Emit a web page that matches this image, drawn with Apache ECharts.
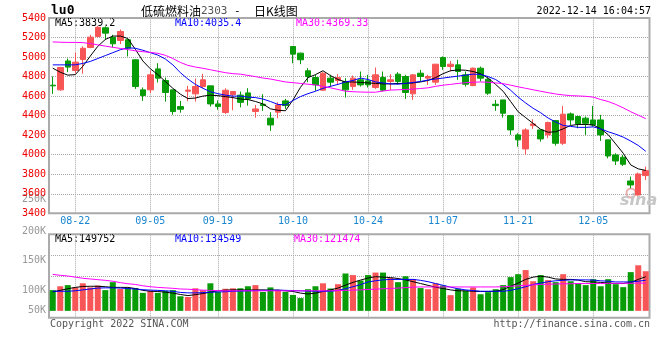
<!DOCTYPE html>
<html><head><meta charset="utf-8">
<script src="https://cdn.jsdelivr.net/npm/echarts@6/dist/echarts.min.js"></script>
<style>html,body{margin:0;padding:0;background:#fff}#c{width:660px;height:360px}</style>
</head><body><div id="c"></div><script>
// ---------- data ----------
const dates = ['08-17','08-18','08-19','08-22','08-23','08-24','08-25','08-26','08-29','08-30',
 '08-31','09-01','09-02','09-05','09-06','09-07','09-08','09-09','09-13','09-14',
 '09-15','09-16','09-19','09-20','09-21','09-22','09-23','09-26','09-27','09-28',
 '09-29','09-30','10-10','10-11','10-12','10-13','10-14','10-17','10-18','10-19',
 '10-20','10-21','10-24','10-25','10-26','10-27','10-28','10-31','11-01','11-02',
 '11-03','11-04','11-07','11-08','11-09','11-10','11-11','11-14','11-15','11-16',
 '11-17','11-18','11-21','11-22','11-23','11-24','11-25','11-28','11-29','11-30',
 '12-01','12-02','12-05','12-06','12-07','12-08','12-09','12-12','12-13','12-14'];
const labelDates = ['08-22','09-05','09-19','10-10','10-24','11-07','11-21','12-05'];
const openP = [4712,4664,4960,4862,4975,5098,5211,5300,5200,5170,
 5177,4972,4664,4664,4879,4760,4664,4493,4650,4623,
 4698,4705,4520,4432,4615,4610,4633,4442,4517,4374,
 4435,4551,5108,5040,4859,4791,4661,4784,4760,4750,
 4698,4767,4756,4688,4791,4750,4825,4801,4623,4835,
 4784,4743,4995,4903,4920,4818,4708,4886,4773,4517,
 4561,4401,4203,4059,4298,4254,4203,4350,4117,4418,
 4391,4374,4356,4356,4152,3998,3974,3731,3588,3786];
const closeP = [4705,4893,4897,4948,5090,5204,5305,5245,5136,5262,
 5091,4698,4606,4818,4784,4637,4442,4466,4662,4698,
 4767,4520,4493,4660,4647,4536,4570,4469,4503,4305,
 4510,4503,5030,4972,4801,4715,4835,4743,4790,4664,
 4784,4715,4715,4818,4661,4767,4750,4637,4818,4801,
 4801,4927,4903,4927,4852,4722,4886,4784,4630,4503,
 4425,4254,4152,4254,4315,4162,4329,4117,4415,4356,
 4315,4322,4305,4203,3987,3936,3902,3690,3803,3837];
const lowP = [4623,4655,4845,4835,4830,5091,5200,5180,5098,5132,
 5006,4674,4551,4630,4740,4544,4410,4430,4548,4544,
 4681,4493,4460,4418,4455,4485,4503,4380,4449,4244,
 4374,4469,4937,4927,4743,4654,4654,4698,4715,4585,
 4664,4698,4688,4674,4647,4664,4722,4572,4561,4750,
 4715,4715,4869,4852,4767,4698,4702,4750,4613,4449,
 4380,4203,4083,3998,4264,4134,4169,4093,4100,4305,
 4271,4203,4288,4141,3963,3895,3885,3656,3581,3741];
const highP = [4801,4900,4985,5045,5110,5228,5320,5315,5228,5283,
 5187,4978,4688,4860,4937,4790,4664,4551,4705,4780,
 4828,4705,4556,4680,4650,4647,4681,4510,4620,4435,
 4537,4572,5110,5045,4886,4818,4845,4818,4825,4784,
 4811,4852,4818,4893,4852,4825,4845,4818,4825,4869,
 4818,4930,5006,4961,4972,4852,4893,4903,4784,4561,
 4561,4408,4220,4271,4363,4254,4339,4356,4500,4432,
 4401,4391,4500,4408,4152,4015,3998,3776,3817,3878];
const ma5 = [4886,4845,4815,4820,4905,5010,5110,5180,5215,5215,
 5190,5080,4960,4880,4820,4750,4680,4620,4575,4580,
 4600,4610,4605,4595,4585,4570,4565,4545,4520,4470,
 4455,4450,4560,4690,4790,4820,4860,4810,4770,4745,
 4745,4740,4735,4730,4725,4725,4730,4730,4735,4745,
 4760,4790,4830,4860,4868,4865,4852,4830,4785,4720,
 4650,4545,4440,4380,4320,4260,4230,4235,4265,4300,
 4310,4310,4305,4265,4205,4110,4015,3895,3855,3839.2];
const ma10 = [4920,4920,4920,4920,4935,4955,4985,5015,5045,5075,
 5095,5090,5070,5045,5020,4980,4920,4840,4775,4720,
 4680,4645,4625,4610,4600,4600,4590,4585,4570,4545,
 4515,4510,4555,4595,4625,4650,4680,4700,4720,4745,
 4760,4785,4770,4745,4735,4725,4722,4730,4740,4750,
 4765,4775,4785,4795,4805,4815,4825,4822,4800,4770,
 4720,4660,4590,4530,4475,4430,4375,4335,4300,4290,
 4280,4280,4285,4265,4235,4210,4180,4140,4095,4035.4];
const ma30 = [5155,5152,5150,5150,5148,5138,5125,5112,5100,5088,
 5077,5064,5055,5048,5038,5018,4985,4945,4915,4898,
 4885,4870,4855,4840,4830,4825,4812,4800,4785,4775,
 4760,4745,4738,4730,4722,4715,4700,4685,4668,4650,
 4645,4642,4640,4640,4652,4662,4665,4668,4672,4678,
 4685,4700,4712,4720,4730,4738,4742,4745,4742,4735,
 4728,4712,4695,4680,4665,4650,4635,4622,4612,4605,
 4602,4598,4590,4565,4545,4515,4480,4440,4405,4369.33];
// volume in thousands of lots
const volume = [91,108,113,103,121,103,111,91,126,96,
 101,100,79,88,79,88,91,64,61,99,
 91,121,83,97,99,99,108,113,83,103,
 91,83,70,56,95,108,121,98,117,164,
 157,133,157,168,168,145,126,152,140,100,
 95,121,111,69,97,88,103,73,82,95,
 113,148,161,179,130,157,135,126,161,130,
 121,113,139,108,139,117,104,170,200,174];
const volMa5 = [83,90,97,103,107,108,108,106,103,103,
 103,98,90,86,85,82,78,72,67,71,
 76,82,88,91,92,92,91,92,92,91,
 91,88,85,78,74,78,85,92,100,113,
 125,135,144,150,148,146,142,136,128,120,
 112,104,98,92,88,88,86,85,85,86,
 93,108,122,138,148,152,148,140,138,138,
 135,128,127,125,122,120,120,125,138,149.752];
const volMa10 = [86,86,86,88,92,96,100,101,101,100,
 98,96,93,91,90,88,86,81,79,79,
 80,82,83,84,86,87,88,89,90,90,
 91,90,89,88,87,86,86,86,90,97,
 106,115,127,132,136,138,138,138,138,134,
 128,120,112,104,97,92,89,86,86,86,
 86,90,97,106,116,122,128,132,134,136,
 136,136,135,132,130,127,127,127,130,134.549];
const volMa30 = [160,156,153,148,143,140,137,134,130,124,
 119,116,110,106,103,101,99,96,95,93,
 91,90,89,88,88,88,88,88,88,88,
 88,88,88,88,88,88,88,88,89,90,
 91,92,94,95,97,98,100,102,104,105,
 105,105,105,105,105,105,105,105,105,105,
 106,108,110,112,114,116,117,118,119,119,
 120,120,120,120,121,121,121,121,122,121.474];
const volTickLabels = ['250K','200K','150K','100K','50K'];
const maTexts = ['MA5:3839.2','MA10:4035.4','MA30:4369.33'];
const volMaTexts = ['MA5:149752','MA10:134549','MA30:121474'];

// ---------- layout / style ----------
const MONO = '"DejaVu Sans Mono", monospace';
const CJK = '"Noto Sans CJK SC", sans-serif';
const RED = '#f85656', GREEN = '#089c08';
const MA_COLORS = ['#000000', '#0000ff', '#ff00ff'];
const GRID_LEFT = 49, GRID_W = 600.5;
const volLabelY = [199.5, 231, 260, 290.5, 310.5];
const gridLine = {type: 'dotted', color: '#a8a8a8', width: 1};

const candleData = dates.map((d, i) => [openP[i], closeP[i], lowP[i], highP[i]]);
const volData = volume.map((v, i) => ({value: v, itemStyle: {color: closeP[i] >= openP[i] ? RED : GREEN}}));
const vLines = {
  z: 1, silent: true, symbol: ['none', 'none'], label: {show: false},
  lineStyle: gridLine, emphasis: {disabled: true},
  data: labelDates.map(d => ({xAxis: d}))
};
function line(data, color, xi, yi) {
  return {type: 'line', data, xAxisIndex: xi, yAxisIndex: yi, symbol: 'none', smooth: false,
    lineStyle: {color, width: 1}, itemStyle: {color}, z: 3, silent: true};
}
function txt(x, y, text, fill, align, font) {
  return {type: 'text', x, y, silent: true, style: {text, fill, align: align || 'left', verticalAlign: 'middle', font: font || ('10px ' + MONO)}};
}

const graphic = [
  txt(51, 11, 'lu0', '#000', 'left', 'bold 13px ' + MONO),
  {type: 'text', x: 141, y: 11, silent: true, style: {
    text: '{a|低硫燃料油}{b|2303}{c| -  }{a|日K线图}', verticalAlign: 'middle',
    rich: {a: {font: '12px ' + CJK, fill: '#000'}, b: {font: '11px ' + MONO, fill: '#555'}, c: {font: '11px ' + MONO, fill: '#000'}}
  }},
  txt(651, 11, '2022-12-14 16:04:57', '#000', 'right'),
  txt(55, 23.5, maTexts[0], MA_COLORS[0]),
  txt(175, 23.5, maTexts[1], MA_COLORS[1]),
  txt(296, 23.5, maTexts[2], MA_COLORS[2]),
  txt(55, 239, volMaTexts[0], MA_COLORS[0]),
  txt(175, 239, volMaTexts[1], MA_COLORS[1]),
  txt(294, 239, volMaTexts[2], MA_COLORS[2]),
  txt(50, 324, 'Copyright 2022 SINA.COM', '#555'),
  txt(650, 324, 'http://finance.sina.com.cn', '#555', 'right'),
  {type: 'circle', silent: true, shape: {cx: 631, cy: 193, r: 4.5}, style: {fill: 'none', stroke: '#eab0b0', lineWidth: 2}},
  txt(620, 201, 'sina', '#c6c6c6', 'left', 'italic bold 16px "DejaVu Sans", sans-serif')
].concat(volTickLabels.map((t, i) => txt(46, volLabelY[i], t, '#999', 'right')));

const option = {
  animation: false,
  backgroundColor: '#fff',
  graphic,
  grid: [
    {left: GRID_LEFT, top: 18, width: GRID_W, height: 195.3, show: true, borderColor: '#ababab', borderWidth: 2, backgroundColor: 'transparent'},
    {left: GRID_LEFT, top: 234.3, width: GRID_W, height: 83.4, show: true, borderColor: '#ababab', borderWidth: 2, backgroundColor: 'transparent'}
  ],
  xAxis: [
    {type: 'category', gridIndex: 0, data: dates, boundaryGap: true,
      axisLine: {show: false}, axisTick: {show: false}, splitLine: {show: false},
      axisLabel: {interval: (idx, val) => labelDates.includes(val), color: '#1a86cf', fontFamily: MONO, fontSize: 10, margin: 3}},
    {type: 'category', gridIndex: 1, data: dates, boundaryGap: true,
      axisLine: {show: false}, axisTick: {show: false}, splitLine: {show: false}, axisLabel: {show: false}}
  ],
  yAxis: [
    {type: 'value', gridIndex: 0, min: 3400, max: 5400, interval: 200,
      axisLine: {show: false}, axisTick: {show: false},
      splitLine: {show: true, lineStyle: gridLine},
      axisLabel: {formatter: v => String(v), color: '#ee0000', fontFamily: MONO, fontSize: 10, margin: 3, padding: [0, 0, 3, 0]}},
    {type: 'value', gridIndex: 1, min: 0, max: 4, interval: 1,
      axisLine: {show: false}, axisTick: {show: false}, axisLabel: {show: false},
      splitLine: {show: true, lineStyle: gridLine}},
    {type: 'value', gridIndex: 1, min: -30, max: 336, show: false, splitLine: {show: false}}
  ],
  series: [
    {type: 'line', data: [], xAxisIndex: 0, yAxisIndex: 0, silent: true, markLine: vLines},
    {type: 'candlestick', name: 'K', xAxisIndex: 0, yAxisIndex: 0, data: candleData, barWidth: 6, z: 2,
      itemStyle: {color: RED, color0: GREEN, borderColor: RED, borderColor0: GREEN, borderWidth: 1}, silent: true},
    line(ma5, MA_COLORS[0], 0, 0),
    line(ma10, MA_COLORS[1], 0, 0),
    line(ma30, MA_COLORS[2], 0, 0),
    {type: 'bar', xAxisIndex: 1, yAxisIndex: 2, data: volData, barWidth: 6, z: 2, silent: true, markLine: vLines},
    line(volMa5, MA_COLORS[0], 1, 2),
    line(volMa10, MA_COLORS[1], 1, 2),
    line(volMa30, MA_COLORS[2], 1, 2)
  ]
};
const chart = echarts.init(document.getElementById('c'), null, {renderer: 'canvas'});
chart.setOption(option);
</script></body></html>
